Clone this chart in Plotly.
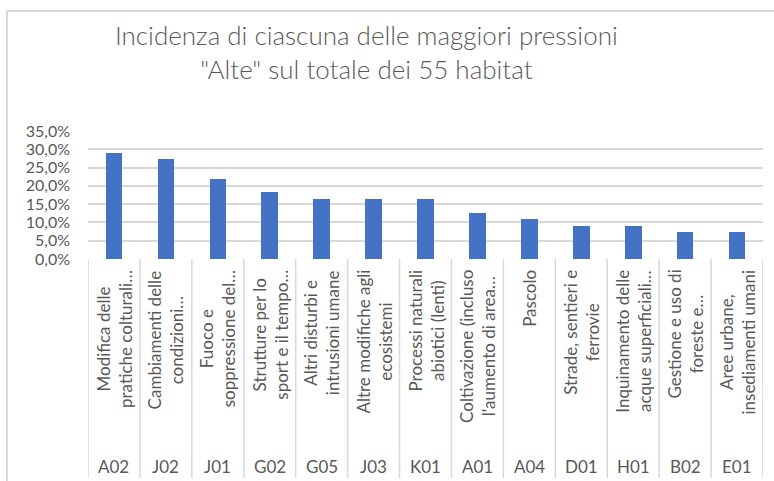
import plotly.graph_objects as go

# ---- data ----
codes = ["A02", "J02", "J01", "G02", "G05", "J03", "K01", "A01", "A04", "D01", "H01", "B02", "E01"]
descriptions = [
    "Modifica delle<br>pratiche colturali…",
    "Cambiamenti delle<br>condizioni…",
    "Fuoco e<br>soppressione del…",
    "Strutture per lo<br>sport e il tempo…",
    "Altri disturbi e<br>intrusioni umane",
    "Altre modifiche agli<br>ecosistemi",
    "Processi naturali<br>abiotici (lenti)",
    "Coltivazione (incluso<br>l'aumento di area…",
    "Pascolo",
    "Strade, sentieri e<br>ferrovie",
    "Inquinamento delle<br>acque superficiali…",
    "Gestione e uso di<br>foreste e…",
    "Aree urbane,<br>insediamenti umani",
]
values = [0.291, 0.273, 0.218, 0.182, 0.164, 0.164, 0.164, 0.127, 0.109, 0.091, 0.091, 0.073, 0.073]
y_ticks = [0, 0.05, 0.10, 0.15, 0.20, 0.25, 0.30, 0.35]
title_text = "Incidenza di ciascuna delle maggiori pressioni<br>\"Alte\" sul totale dei 55 habitat"

# ---- layout geometry (pixels) ----
W, H = 774, 481
PL, PR, PT, PB = 88, 763, 131, 259  # plot area edges
ph = PB - PT
pw = PR - PL

def py(ypx):
    return (PB - ypx) / ph

def px(xpx):
    return (xpx - PL) / pw

FONT = "Lato"
GREY = "#595959"
LINE = "#d9d9d9"

fig = go.Figure()
fig.add_trace(go.Bar(
    x=list(range(len(codes))), y=values,
    marker=dict(color="#4472C4", line=dict(width=0)),
    width=0.32,
    hoverinfo="skip",
))

shapes = []
for i in range(len(codes) + 1):
    shapes.append(dict(type="line", xref="x", yref="paper",
                       x0=i - 0.5, x1=i - 0.5, y0=0, y1=py(478),
                       line=dict(color=LINE, width=1.5)))
shapes.append(dict(type="rect", xref="paper", yref="paper",
                   x0=px(7), x1=px(790), y0=py(11), y1=py(500),
                   line=dict(color=LINE, width=2), fillcolor="rgba(0,0,0,0)", layer="below"))

annotations = []
for i, (c, d) in enumerate(zip(codes, descriptions)):
    annotations.append(dict(xref="x", yref="paper", x=i, y=py(268),
                            text=d, textangle=-90, showarrow=False,
                            xanchor="center", yanchor="top", align="center",
                            font=dict(family=FONT, size=17, color=GREY)))
    annotations.append(dict(xref="x", yref="paper", x=i, y=py(466),
                            text=c, showarrow=False,
                            xanchor="center", yanchor="middle",
                            font=dict(family=FONT, size=17, color=GREY)))

annotations.append(dict(xref="paper", yref="paper", x=px(366.5), y=py(17),
                        text=title_text, showarrow=False,
                        xanchor="center", yanchor="top", align="center",
                        font=dict(family=FONT, size=26, color=GREY, weight=300)))

fig.update_layout(
    width=W, height=H,
    margin=dict(l=PL, r=W - PR, t=PT, b=H - PB, pad=0),
    paper_bgcolor="white", plot_bgcolor="white",
    separators=", ",
    showlegend=False,
    bargap=0,
    xaxis=dict(range=[-0.5, len(codes) - 0.5], showticklabels=False, showgrid=False,
               zeroline=False, showline=False, ticks="", fixedrange=True),
    yaxis=dict(range=[0, 0.35], tickvals=y_ticks, tickformat=".1%",
               showgrid=True, gridcolor=LINE, gridwidth=1.5,
               zeroline=False, showline=False, ticks="",
               ticklabelstandoff=17, fixedrange=True,
               tickfont=dict(family=FONT, size=16, color=GREY)),
    shapes=shapes,
    annotations=annotations,
)

fig.write_html("out.html", config={"displayModeBar": False},
               post_script="document.body.style.margin='0';")
